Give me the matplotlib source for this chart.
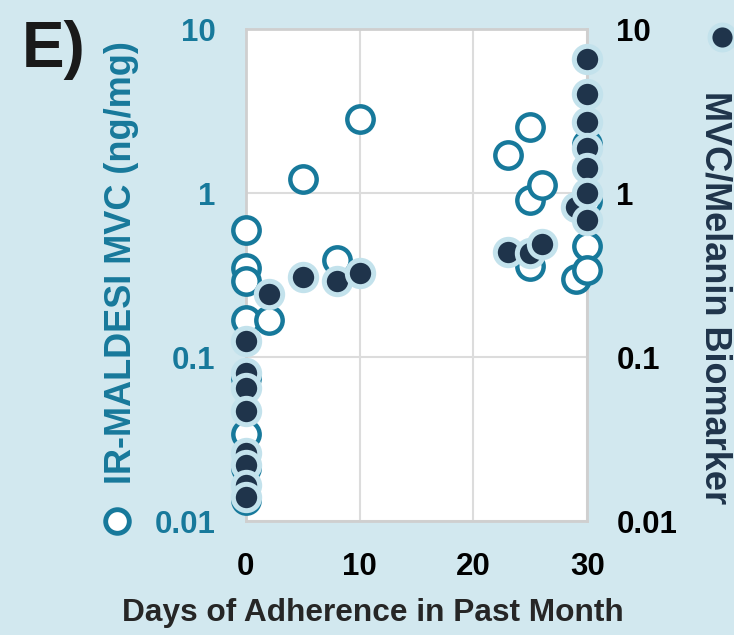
import numpy as np
import matplotlib.pyplot as plt
from matplotlib.lines import Line2D

# open circles: IR-MALDESI MVC (ng/mg)
open_days = [0, 0, 0, 0, 0, 0, 0, 0,
             2, 5, 8, 10,
             23, 25, 25, 25, 26, 29,
             30, 30, 30, 30]
open_mvc = [0.60, 0.35, 0.29, 0.168, 0.075, 0.034, 0.021, 0.0135,
            0.168, 1.22, 0.39, 2.83,
            1.71, 2.53, 0.906, 0.36, 1.12, 0.30,
            2.0, 0.9, 0.475, 0.34]

# filled circles: MVC/Melanin biomarker
fill_days = [0, 0, 0, 0, 0, 0, 0, 0,
             2, 5, 8, 10,
             23, 25, 26, 29,
             30, 30, 30, 30, 30, 30, 30]
fill_ratio = [0.125, 0.08, 0.065, 0.047, 0.026, 0.022, 0.0165, 0.014,
              0.242, 0.307, 0.29, 0.325,
              0.437, 0.43, 0.49, 0.82,
              6.56, 4.0, 2.7, 1.88, 1.43, 1.0, 0.69]

x_ticks = [0, 10, 20, 30]
y_ticks = [0.01, 0.1, 1, 10]
y_ticklabels = ["0.01", "0.1", "1", "10"]

bg = "#d2e8ef"
teal = "#17799b"
navy = "#1f344b"
edge_light = "#c3e2ec"
grid_c = "#dcdcdc"

plt.rcParams["font.family"] = ["Liberation Sans", "DejaVu Sans"]
plt.rcParams["font.weight"] = "bold"

fig = plt.figure(figsize=(7.34, 6.35), dpi=100, facecolor=bg)
ax = fig.add_axes([0.335, 0.1795, 0.465, 0.7745])
ax.set_facecolor("white")

ax.set_yscale("log")
ax.set_xlim(0, 30)
ax.set_ylim(0.01, 10)
ax.set_xticks(x_ticks)
ax.set_yticks(y_ticks)
ax.set_yticklabels(y_ticklabels)
ax.minorticks_off()
ax.grid(True, color=grid_c, lw=1.5)
ax.set_axisbelow(True)
for s in ax.spines.values():
    s.set_color("#cfcfcf")
    s.set_linewidth(2)
ax.tick_params(axis="y", length=0, pad=22, labelsize=22.5, labelcolor=teal)
ax.tick_params(axis="x", length=0, pad=22, labelsize=22.5, labelcolor="black")

ax.scatter(open_days, open_mvc, s=360, facecolor="white", edgecolor=teal,
           linewidth=3.2, clip_on=False, zorder=3)

ax2 = ax.twinx()
ax2.set_yscale("log")
ax2.set_ylim(0.01, 10)
ax2.set_yticks(y_ticks)
ax2.set_yticklabels(y_ticklabels)
ax2.minorticks_off()
for s in ax2.spines.values():
    s.set_visible(False)
ax2.tick_params(axis="y", length=0, pad=21, labelsize=22.5, labelcolor="black")
ax2.scatter(fill_days, fill_ratio, s=360, facecolor=navy, edgecolor=edge_light,
            linewidth=3.6, clip_on=False, zorder=4)

fig.text(0.508, 0.035, "Days of Adherence in Past Month", ha="center", va="center",
         fontsize=22.8, color="#262626", fontweight="bold")

fig.text(0.166, 0.586, "IR-MALDESI MVC (ng/mg)", rotation=90, ha="center", va="center",
         fontsize=26, color=teal, fontweight="bold")
fig.add_artist(Line2D([0.159], [1 - 521 / 635], marker="o", markersize=17,
                      markerfacecolor="white", markeredgecolor=teal,
                      markeredgewidth=3.5, transform=fig.transFigure))

fig.text(0.974, 0.532, "MVC/Melanin Biomarker", rotation=-90, ha="center", va="center",
         fontsize=26, color=navy, fontweight="bold")
fig.add_artist(Line2D([0.984], [1 - 37 / 635], marker="o", markersize=18,
                      markerfacecolor=navy, markeredgecolor=edge_light,
                      markeredgewidth=3.5, transform=fig.transFigure))

fig.text(0.03, 0.922, "E)", ha="left", va="center", fontsize=46,
         color="#1a1a1a", fontweight="bold")

fig.savefig("out.png", dpi=100, facecolor=bg)
